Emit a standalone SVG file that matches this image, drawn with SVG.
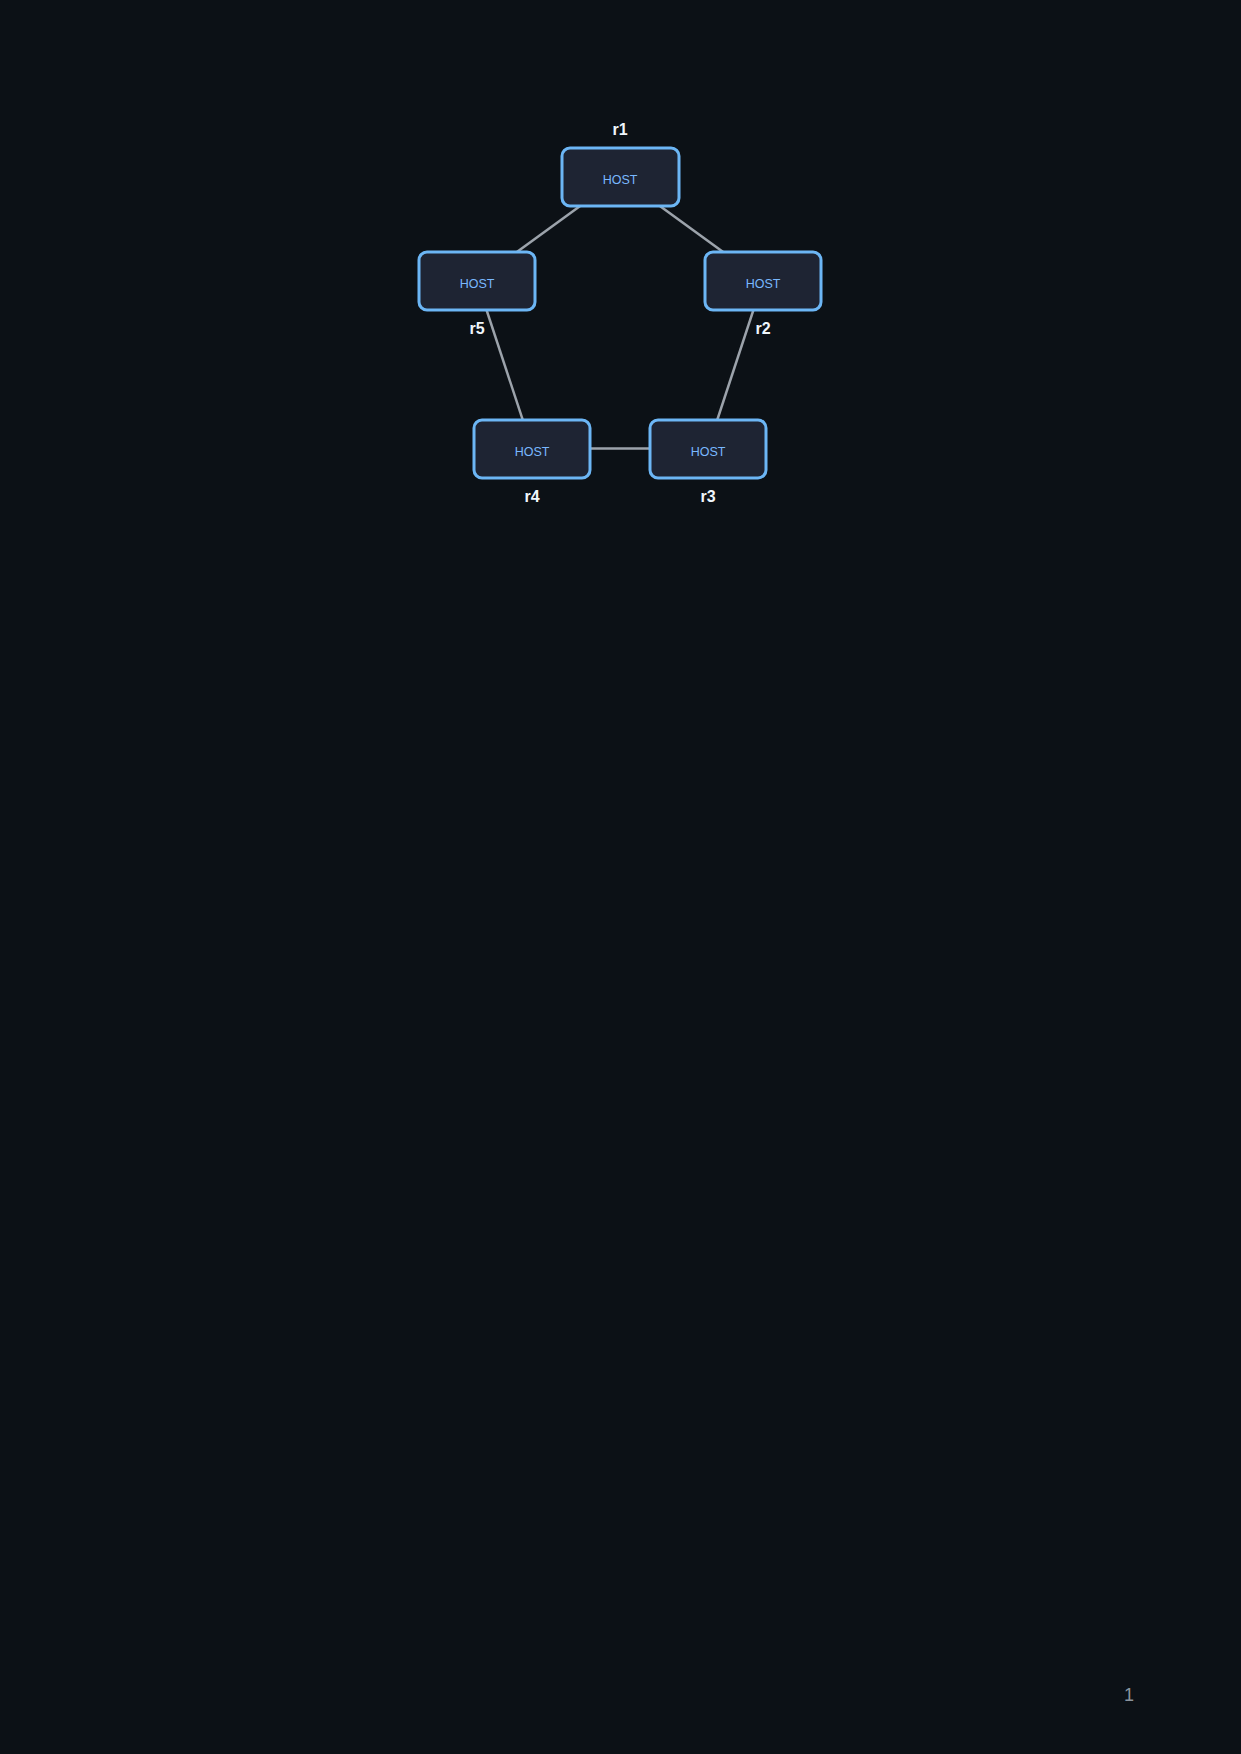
<svg xmlns="http://www.w3.org/2000/svg" width="1241" height="1754" viewBox="0 0 1241 1754">
<style>
.node{fill:#1e2433;stroke:#6cb6f5;stroke-width:3}
.host{font-family:"Liberation Sans",Arial,sans-serif;font-size:12.5px;fill:#79b8ff;text-anchor:middle}
.lbl{font-family:"Liberation Sans",Arial,sans-serif;font-size:16px;font-weight:bold;fill:#f0f6fc;text-anchor:middle}
.edge{stroke:#9ca3ab;stroke-width:2.5;fill:none}
</style>
<rect width="1241" height="1754" fill="#0c1116"/>
<g id="connectors">
<line class="edge" x1="620" y1="177" x2="477" y2="281"/>
<line class="edge" x1="620" y1="177" x2="763" y2="281"/>
<line class="edge" x1="477" y1="281" x2="532" y2="448"/>
<line class="edge" x1="763" y1="281" x2="708" y2="448"/>
<line class="edge" x1="532" y1="448.5" x2="708" y2="448.5"/>
</g>
<g id="r1">
<rect class="node" x="562" y="148" width="117" height="58" rx="8"/>
<text class="host" x="620" y="184">HOST</text>
<text class="lbl" x="620" y="135">r1</text>
</g>
<g id="r2">
<rect class="node" x="705" y="252" width="116" height="58" rx="8"/>
<text class="host" x="763" y="288">HOST</text>
<text class="lbl" x="763" y="334">r2</text>
</g>
<g id="r3">
<rect class="node" x="650" y="420" width="116" height="58" rx="8"/>
<text class="host" x="708" y="456">HOST</text>
<text class="lbl" x="708" y="502">r3</text>
</g>
<g id="r4">
<rect class="node" x="474" y="420" width="116" height="58" rx="8"/>
<text class="host" x="532" y="456">HOST</text>
<text class="lbl" x="532" y="502">r4</text>
</g>
<g id="r5">
<rect class="node" x="419" y="252" width="116" height="58" rx="8"/>
<text class="host" x="477" y="288">HOST</text>
<text class="lbl" x="477" y="334">r5</text>
</g>
<text x="1129" y="1701" font-family="'Liberation Sans',Arial,sans-serif" font-size="18" fill="#8b949e" text-anchor="middle">1</text>
</svg>
